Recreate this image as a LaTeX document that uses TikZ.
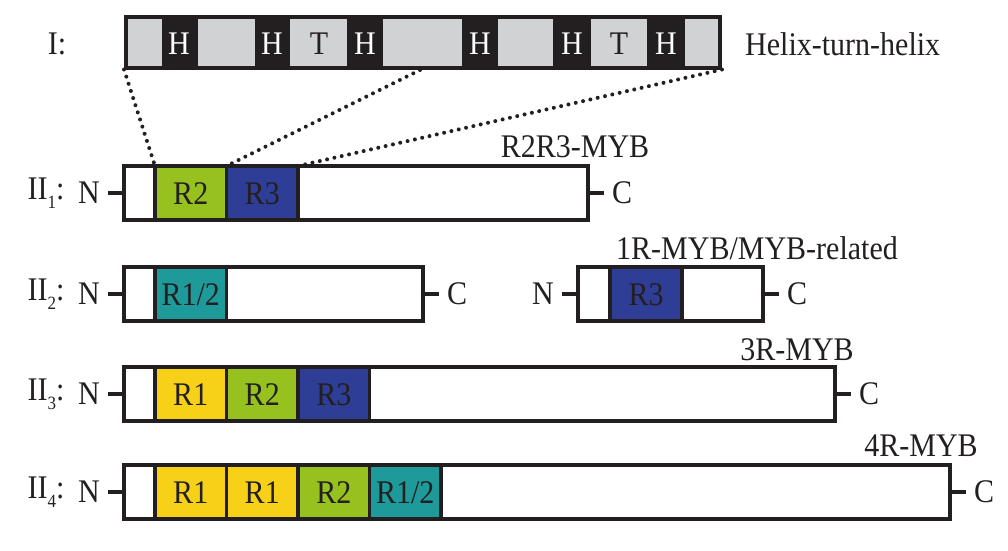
\documentclass[tikz,border=0pt]{standalone}
\usepackage{fontspec}
\setmainfont{Liberation Serif}
\definecolor{ink}{HTML}{231F20}
\definecolor{hgray}{HTML}{D1D2D4}
\definecolor{rgreen}{HTML}{96C11F}
\definecolor{rblue}{HTML}{2E3D96}
\definecolor{rteal}{HTML}{1F9A9B}
\definecolor{ryellow}{HTML}{F6D117}
\newcommand{\rowlab}[1]{II\raisebox{-8pt}{\fontsize{17}{17}\selectfont #1}:}
\newcommand{\tall}[1]{\scalebox{1}[1.1]{#1}}
\begin{document}
\begin{tikzpicture}[x=1pt,y=-1pt,
  lab/.style={font=\fontsize{30}{34}\selectfont, text=ink, inner sep=0pt},
  prot/.style={draw=ink, line width=3.2pt, fill=white, anchor=north west, inner sep=0pt, outer sep=0pt, minimum height=54pt},
  dom/.style={draw=ink, line width=3.2pt, anchor=north west, inner sep=0pt, outer sep=0pt, minimum height=54pt, minimum width=71.5pt, font=\fontsize{30}{34}\selectfont, text=ink, text height=22pt, text depth=0pt},
  seg/.style={fill=hgray, anchor=north west, inner sep=0pt, outer sep=0pt, minimum height=47pt},
  hl/.style={font=\fontsize{30}{34}\selectfont, inner sep=0pt, text height=22pt, text depth=0pt},
  nterm/.style={lab, anchor=east, inner xsep=8pt},
  cterm/.style={lab, anchor=west, inner xsep=8pt},
  tail/.style={draw=ink, line width=3.2pt},
  dots/.style={draw=ink, line width=4pt, line cap=round, dash pattern=on 0pt off 7.5pt}
]
\useasboundingbox (0,0) rectangle (1008,550);

% ---- I: helix-turn-helix bar ----
\node[lab] (lI) at (57,44) {\tall{I:}};
\node[fill=ink, anchor=north west, inner sep=0pt, outer sep=0pt, minimum width=598pt, minimum height=55pt] (hth) at (124,14.5) {};
\node[seg, minimum width=34pt] (s1) at (127.5,18.5) {};
\node[seg, minimum width=57pt] (s2) at (198,18.5) {};
\node[seg, minimum width=57pt] (s3) at (290,18.5) {};
\node[seg, minimum width=79pt] (s4) at (383,18.5) {};
\node[seg, minimum width=55pt] (s5) at (498,18.5) {};
\node[seg, minimum width=56pt] (s6) at (591,18.5) {};
\node[seg, minimum width=33pt] (s7) at (685,18.5) {};
\node[hl, text=white] (h1) at (179,43) {\tall{H}};
\node[hl, text=white] (h2) at (272,43) {\tall{H}};
\node[hl, text=ink] (t1) at (319,43) {\tall{T}};
\node[hl, text=white] (h3) at (365,43) {\tall{H}};
\node[hl, text=white] (h4) at (480,43) {\tall{H}};
\node[hl, text=white] (h5) at (572,43) {\tall{H}};
\node[hl, text=ink] (t2) at (619,43) {\tall{T}};
\node[hl, text=white] (h6) at (666,43) {\tall{H}};
\node[lab, anchor=west] (hthlab) at (745,44) {\tall{Helix-turn-helix}};
\coordinate (hthmid) at (420,70);

% ---- II1: R2R3-MYB ----
\node[lab] (l1) at (46,193) {\tall{\rowlab{1}}};
\node[prot, minimum width=464pt] (p1) at (124,166) {};
\node[dom, fill=rgreen] (p1r2) at (155,166) {\tall{R2}};
\node[dom, fill=rblue] (p1r3) at (226.5,166) {\tall{R3}};
\node[nterm] (p1n) at (108,193) {\tall{N}};
\node[cterm] (p1c) at (604,193) {\tall{C}};
\draw[tail] (p1n.east) -- (p1.west);
\draw[tail] (p1.east) -- (p1c.west);
\node[lab] (t1lab) at (575,147) {\tall{R2R3-MYB}};

% dotted zoom lines
\draw[dots] (hth.south west) -- (p1r2.north west);
\draw[dots] (hthmid) -- (p1r3.north west);
\draw[dots] (hth.south east) -- (p1r3.north east);

% ---- II2 ----
\node[lab] (l2) at (46,294) {\tall{\rowlab{2}}};
\node[prot, minimum width=299pt] (p2) at (124,267) {};
\node[dom, fill=rteal] (p2r) at (155,267) {\tall{R1/2}};
\node[nterm] (p2n) at (108,294) {\tall{N}};
\node[cterm] (p2c) at (439,294) {\tall{C}};
\draw[tail] (p2n.east) -- (p2.west);
\draw[tail] (p2.east) -- (p2c.west);

\node[prot, minimum width=185pt] (p2b) at (578,267) {};
\node[dom, fill=rblue, minimum width=72pt] (p2br3) at (610,267) {\tall{R3}};
\node[nterm] (p2bn) at (562,294) {\tall{N}};
\node[cterm] (p2bc) at (779,294) {\tall{C}};
\draw[tail] (p2bn.east) -- (p2b.west);
\draw[tail] (p2b.east) -- (p2bc.west);
\node[lab] (t2lab) at (757,248) {\tall{1R-MYB/MYB-related}};

% ---- II3 ----
\node[lab] (l3) at (46,394) {\tall{\rowlab{3}}};
\node[prot, minimum width=711pt] (p3) at (124,367) {};
\node[dom, fill=ryellow] (p3r1) at (155,367) {\tall{R1}};
\node[dom, fill=rgreen] (p3r2) at (226.5,367) {\tall{R2}};
\node[dom, fill=rblue] (p3r3) at (298,367) {\tall{R3}};
\node[nterm] (p3n) at (108,394) {\tall{N}};
\node[cterm] (p3c) at (851,394) {\tall{C}};
\draw[tail] (p3n.east) -- (p3.west);
\draw[tail] (p3.east) -- (p3c.west);
\node[lab] (t3lab) at (797,350) {\tall{3R-MYB}};

% ---- II4 ----
\node[lab] (l4) at (46,492) {\tall{\rowlab{4}}};
\node[prot, minimum width=826pt] (p4) at (124,465) {};
\node[dom, fill=ryellow] (p4r1a) at (155,465) {\tall{R1}};
\node[dom, fill=ryellow] (p4r1b) at (226.5,465) {\tall{R1}};
\node[dom, fill=rgreen] (p4r2) at (298,465) {\tall{R2}};
\node[dom, fill=rteal] (p4r12) at (369.5,465) {\tall{R1/2}};
\node[nterm] (p4n) at (108,492) {\tall{N}};
\node[cterm] (p4c) at (966,492) {\tall{C}};
\draw[tail] (p4n.east) -- (p4.west);
\draw[tail] (p4.east) -- (p4c.west);
\node[lab] (t4lab) at (921,446) {\tall{4R-MYB}};
\end{tikzpicture}
\end{document}
